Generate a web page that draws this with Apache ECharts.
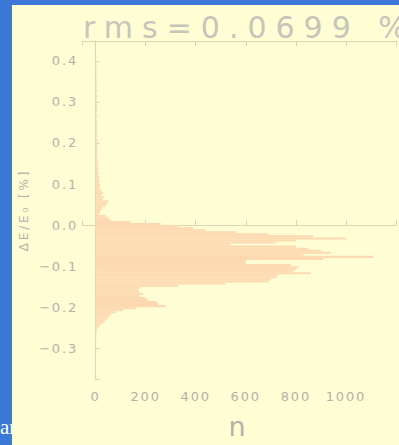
<!DOCTYPE html>
<html>
<head>
<meta charset="utf-8">
<script src="https://cdn.jsdelivr.net/npm/echarts@6.0.0/dist/echarts.min.js"></script>
<style>
  html, body { margin: 0; padding: 0; overflow: hidden; background: #3b78d8; }
  #chart { width: 399px; height: 445px; }
  text { letter-spacing: 0.14em; }
  text[style*="12px"] { letter-spacing: 0.24em; }
  text[style*="30px"] { letter-spacing: 9px; }
  text[style*="Serif"] { letter-spacing: 0; }
</style>
</head>
<body>
<div id="chart"></div>
<script>
// histogram of dE/E0 [%], bins of 0.005 going down from 0.41
const binTop = 0.41;
const binWidth = 0.005;
const counts = [
  3, 2, 4, 3, 5, 3, 4, 2, 5, 4, 3,
  4, 6, 3, 5, 4, 7, 3, 5, 6, 4, 5, 3, 6, 4, 7, 5, 4, 6, 5, 3, 6, 5, 7, 4, 6, 5,
  5, 7, 4, 6, 8, 5, 7, 6, 9, 5, 8, 7, 6, 10, 7, 9, 8, 11, 9, 12,
  10, 14, 12, 16, 13, 18, 15, 20,
  24, 30, 22, 35, 28,
  52, 45, 38,
  28, 22, 18,
  12, 40, 50, 60,
  140, 260, 330, 390, 440, 560, 690, 870, 1000, 800, 720, 540, 800, 850, 900, 940, 830, 1110, 910,
  600, 600, 780, 810, 800, 790, 860, 730, 720, 700, 690, 520, 330,
  180, 170, 175, 190, 175, 200, 210, 245, 250, 280, 160, 110, 80, 62, 55, 48, 38, 32, 18, 14, 8,
  5, 4, 3, 3, 2, 2, 3, 2, 1, 2, 1, 1, 2, 1, 1, 1, 1, 1, 1
];
const xTicks = [0, 200, 400, 600, 800, 1000];
const yTicks = [-0.3, -0.2, -0.1, 0.0, 0.1, 0.2, 0.3, 0.4];
const titleText = 'rms=0.0699 %';

const chart = echarts.init(document.getElementById('chart'), null, { renderer: 'svg' });

const axisColor = '#dad6b2';
const labelColor = '#b3b2a7';
const barColor = '#fdd9b1';

const bins = counts.map((n, i) => [binTop - i * binWidth, binTop - (i + 1) * binWidth, n]);

const isTick = (list, v) => list.some((t) => Math.abs(t - v) < 1e-6);

const xBase = {
  type: 'value',
  min: -54,
  max: 1200,
  minInterval: 200,
  maxInterval: 200,
  splitLine: { show: false },
  axisLine: { show: true, lineStyle: { color: axisColor, width: 1 } },
  axisTick: { show: true, inside: true, length: 5, lineStyle: { color: axisColor } },
};

const option = {
  backgroundColor: '#3b78d8',
  animation: false,
  title: {
    text: titleText,
    left: 78,
    top: 7,
    textStyle: {
      fontFamily: 'DejaVu Sans',
      fontSize: 30,
      fontWeight: 'normal',
      color: '#c6c5ba',
    },
  },
  graphic: [
    {
      type: 'text',
      z: -2,
      left: 0,
      top: 416,
      style: { text: 'ar', fill: '#ffffff', fontFamily: 'Liberation Serif', fontSize: 21 },
    },
    {
      type: 'rect',
      z: -1,
      shape: { x: 12, y: 5, width: 400, height: 445 },
      style: { fill: '#fffdd4' },
    },
  ],
  grid: { left: 82, top: 41, width: 329, height: 341 },
  xAxis: [
    Object.assign({}, xBase, {
      position: 'bottom',
      name: 'n',
      nameLocation: 'middle',
      nameGap: 34,
      nameTextStyle: { fontFamily: 'DejaVu Sans', fontSize: 27, color: labelColor },
      axisLabel: {
        margin: 11,
        fontFamily: 'DejaVu Sans',
        fontSize: 13,
        color: labelColor,
        formatter: (v) => (isTick(xTicks, v) ? String(v) : ''),
      },
    }),
    Object.assign({}, xBase, {
      position: 'top',
      axisLabel: { show: false },
    }),
  ],
  yAxis: {
    type: 'value',
    min: -0.375,
    max: 0.4485,
    minInterval: 0.1,
    maxInterval: 0.1,
    splitLine: { show: false },
    axisLine: { show: true, lineStyle: { color: axisColor, width: 1 } },
    axisTick: { show: true, inside: true, length: 4, lineStyle: { color: axisColor } },
    axisLabel: {
      margin: 4,
      fontFamily: 'DejaVu Sans',
      fontSize: 13,
      color: labelColor,
      formatter: (v) => (isTick(yTicks, v) ? v.toFixed(1).replace('-', '−') : ''),
    },
    name: 'ΔE/E₀ [%]',
    nameLocation: 'middle',
    nameGap: 52,
    nameTextStyle: { fontFamily: 'DejaVu Sans', fontSize: 12, color: labelColor },
  },
  series: [
    {
      type: 'custom',
      data: bins,
      encode: { x: 2, y: [0, 1] },
      renderItem: (params, api) => {
        const p0 = api.coord([0, api.value(0)]);
        const p1 = api.coord([api.value(2), api.value(1)]);
        return {
          type: 'rect',
          shape: { x: p0[0], y: p0[1], width: p1[0] - p0[0], height: p1[1] - p0[1] },
          style: { fill: barColor },
        };
      },
    },
  ],
};

chart.setOption(option);
</script>
</body>
</html>
